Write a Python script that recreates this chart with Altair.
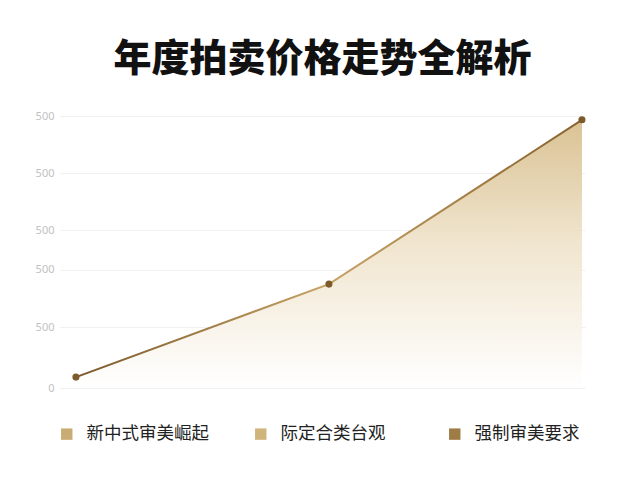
import altair as alt
import pandas as pd

categories = ["新中式审美崛起", "际定合类台观", "强制审美要求"]
positions = [0, 1, 2]
values = [100, 955, 2465]
swatch_colors = ["#c9ab74", "#d1b47c", "#9f7b45"]

y_ticks = [0, 560, 1085, 1450, 1975, 2500]
y_tick_labels = ["0", "500", "500", "500", "500", "500"]

df = pd.DataFrame({"cat": categories, "x": positions, "v": values})

label_expr = "''"
for t, l in zip(reversed(y_ticks), reversed(y_tick_labels)):
    label_expr = f"datum.value == {t} ? '{l}' : ({label_expr})"

xs = alt.X("x:Q", scale=alt.Scale(domain=[-0.063, 2.012], nice=False, zero=False), axis=None)
ys = alt.Y(
    "v:Q",
    scale=alt.Scale(domain=[0, 2500], nice=False),
    axis=alt.Axis(
        values=y_ticks, labelExpr=label_expr, title=None, ticks=False, domain=False,
        grid=True, gridColor="#f1f1f1", gridWidth=1, labelColor="#c2c2c2",
        labelFontSize=11, labelPadding=6, labelFont="Noto Sans",
    ),
)

area = alt.Chart(df).mark_area(
    color=alt.Gradient(
        gradient="linear",
        stops=[
            alt.GradientStop(color="#d8bf8e", offset=0),
            alt.GradientStop(color="#efe3cb", offset=0.45),
            alt.GradientStop(color="#ffffff", offset=1),
        ],
        x1=1, x2=1, y1=0, y2=1,
    ),
    opacity=0.95,
).encode(x=xs, y=ys)

line = alt.Chart(df).mark_line(
    stroke=alt.Gradient(
        gradient="linear",
        stops=[
            alt.GradientStop(color="#7a5829", offset=0),
            alt.GradientStop(color="#c7a366", offset=0.5),
            alt.GradientStop(color="#a07b42", offset=0.8),
            alt.GradientStop(color="#86632f", offset=1),
        ],
        x1=0, x2=1, y1=0, y2=0,
    ),
    strokeWidth=2,
).encode(x=xs, y=ys)

points = alt.Chart(df).mark_circle(size=50, color="#7c5a2a", opacity=1).encode(x=xs, y=ys)

legend_layer = alt.Chart(df).mark_square(size=130, opacity=0).encode(
    x=xs, y=ys,
    color=alt.Color(
        "cat:N",
        scale=alt.Scale(domain=categories, range=swatch_colors),
        legend=alt.Legend(
            title=None, orient="none", direction="horizontal", columns=3,
            legendX=-2, legendY=309, symbolType="square", symbolSize=130,
            symbolOpacity=1, symbolStrokeWidth=0, labelFontSize=17.5,
            labelFont="Noto Sans CJK SC", labelColor="#222222", labelOffset=11,
            columnPadding=43, labelLimit=300, gridAlign="all",
        ),
    ),
)

chart = alt.layer(area, line, points, legend_layer).properties(
    width=525,
    height=272,
    background="#ffffff",
    title=alt.TitleParams(
        "年度拍卖价格走势全解析", fontSize=38, fontWeight=900,
        font="Noto Sans CJK SC", color="#111111", anchor="middle", offset=31,
    ),
    autosize=alt.AutoSizeParams(type="none"),
    padding={"left": 52, "top": 108, "right": 40, "bottom": 80},
).configure_view(strokeWidth=0, stroke="transparent")

chart.save("out.html", embed_options={"renderer": "svg", "actions": False})
